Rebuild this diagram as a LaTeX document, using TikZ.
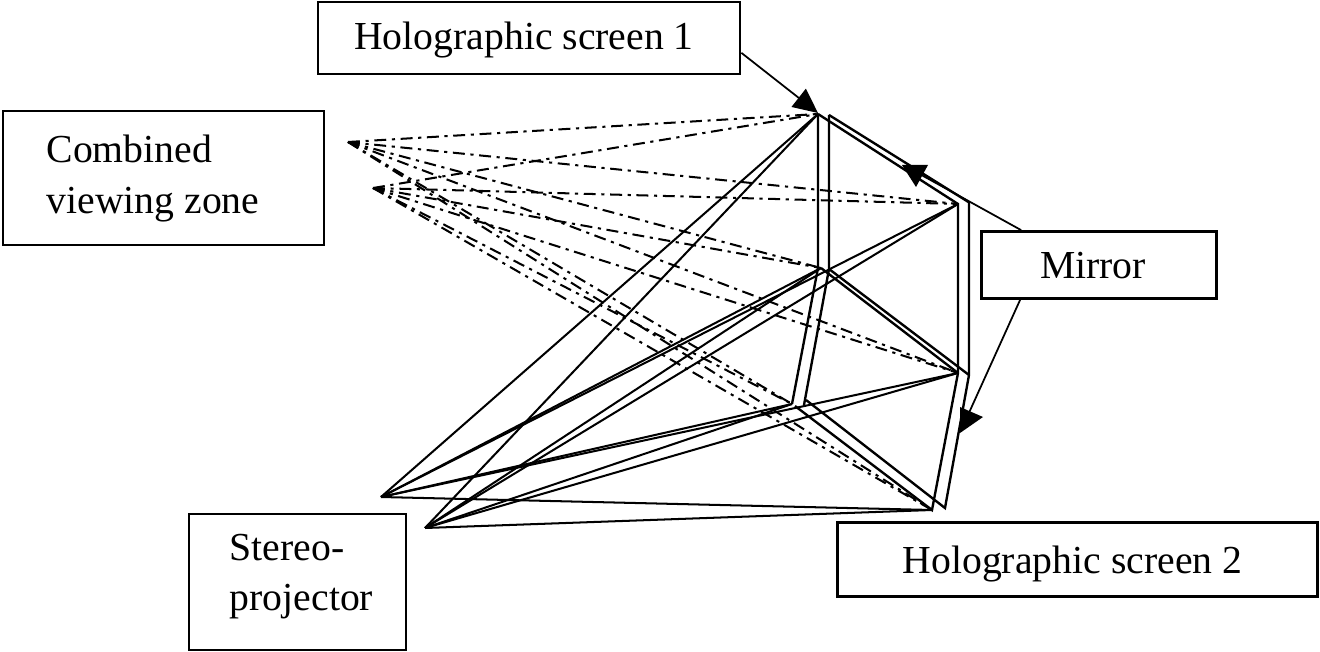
\documentclass[tikz,border=0pt]{standalone}
\usepackage{fontspec}
\setmainfont{Liberation Serif}
\usetikzlibrary{arrows.meta}
\tikzset{
  boxed/.style 2 args={draw,line width=1.6pt,minimum width=#1*0.02cm,minimum height=#2*0.02cm,inner sep=0pt},
  boxtext/.style={font=\fontsize{22.6}{28.6}\selectfont,align=left,inner sep=0pt},
  panel/.style={line width=1.35pt},
  ray/.style={line width=1.15pt,dash pattern=on 6.8pt off 3.2pt on 1.8pt off 3.2pt},
  beam/.style={line width=1.15pt},
  pointer/.style={line width=1pt}
}

\begin{document}
\begin{tikzpicture}[x=0.02cm,y=-0.02cm]
\useasboundingbox (0,0) rectangle (1320,652);

% label boxes
\node[boxed={422}{72}] (hsOne) at (529,38) {};
\node[boxed={321}{134}] (zone) at (163.5,178) {};
\node[boxed={235}{67}] (mirror) at (1099,265) {};
\node[boxed={217}{136}] (stereo) at (297.5,582) {};
\node[boxed={480}{74}] (hsTwo) at (1077.5,559.5) {};

\node[boxtext] (hsOneText) at (524,40) {Holographic screen 1};
\node[boxtext] (zoneText) at (153,178.5) {Combined\\viewing zone};
\node[boxtext] (mirrorText) at (1093,266) {Mirror};
\node[boxtext] (stereoText) at (301.5,576.5) {Stereo-\\projector};
\node[boxtext] (hsTwoText) at (1072.5,564) {Holographic screen 2};

% viewing points and projectors
\coordinate (viewA) at (348,142);
\coordinate (viewB) at (373,188);
\coordinate (projA) at (381,497);
\coordinate (projB) at (425,528);

% points on the screens
\coordinate (top) at (818,114);
\coordinate (midL) at (821,268);
\coordinate (lowL) at (792,404);
\coordinate (rightUp) at (958,204);
\coordinate (rightLow) at (958,373);
\coordinate (foot) at (932,510);

% rays
\foreach \s in {top,midL,lowL,rightUp,rightLow,foot} {
    \foreach \v in {viewA,viewB} {
        \draw[ray] (\v) -- (\s);
    }
    \foreach \p in {projA,projB} {
        \draw[beam] (\p) -- (\s);
    }
}

% screens and mirror, inner edge
\draw[panel] (top) -- (818,268) -- (lowL);
\draw[panel] (795,406) -- (foot) -- (rightLow) -- (rightUp) -- (top);
\draw[panel] (midL) -- (rightLow);
% outer edge
\coordinate (topO) at (829,115);
\coordinate (midO) at (829,269);
\coordinate (rightUpO) at (970,203);
\coordinate (rightLowO) at (969,375);
\coordinate (footO) at (945,508);
\draw[panel] (topO) -- (midO) -- (804,405);
\draw[panel] (806,400) -- (footO) -- (rightLowO) -- (969,203);
\draw[panel] (topO) -- (rightUpO);
\draw[panel] (midO) -- (rightLowO);

% pointers
\coordinate (tipOne) at (818,113);
\coordinate (tipMirrorA) at (916,172);
\coordinate (tipMirrorB) at (968,415);
\draw[pointer,-{Triangle[length=14pt,width=13pt]}] (hsOne.-4.6) -- (tipOne);
\draw[pointer] (mirror.north west) ++(41,0) -- (tipMirrorA);
\draw[pointer] (mirror.south west) ++(40,0) -- (tipMirrorB);
\fill (902,165) -- (928,165) -- (916,187) -- cycle;
\fill (960,407) -- (983,417) -- (960,433) -- cycle;
\end{tikzpicture}
\end{document}
